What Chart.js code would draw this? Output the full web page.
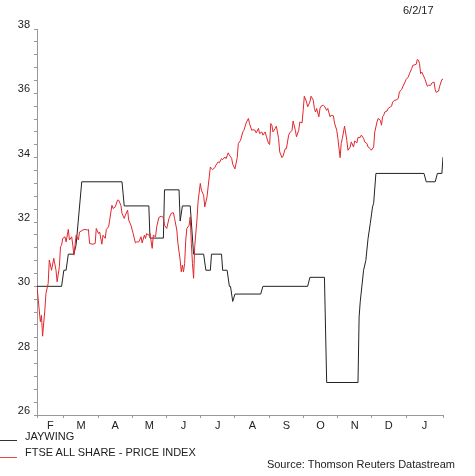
<!DOCTYPE html>
<html>
<head>
<meta charset="utf-8">
<script src="https://cdn.jsdelivr.net/npm/chart.js@4/dist/chart.umd.min.js"></script>
<style>
  html, body { margin: 0; padding: 0; background: #fff; }
  body { width: 475px; height: 476px; position: relative; overflow: hidden;
         font-family: "Liberation Sans", Arial, sans-serif; font-size: 11px; color: #222; }
  #chart { position: absolute; left: 0; top: 0; }
  .txt { position: absolute; white-space: nowrap; line-height: 13px; }
  .key { position: absolute; left: 0; width: 17px; height: 0; }
</style>
</head>
<body>
<canvas id="chart" width="475" height="476"></canvas>
<div class="txt" style="left:403px; top:4px;">6/2/17</div>
<div class="key" style="top:440px; border-top:1px solid #333;"></div>
<div class="txt" style="left:25px; top:430px;">JAYWING</div>
<div class="key" style="top:457px; border-top:1px solid #e8474a;"></div>
<div class="txt" style="left:25px; top:446px;">FTSE ALL SHARE - PRICE INDEX</div>
<div class="txt" style="right:20px; top:458px;">Source: Thomson Reuters Datastream</div>
<script>
// x values are days counted from 6 Feb 2016
const monthEdges = [0, 24, 55, 85, 116, 146, 177, 208, 238, 269, 299, 330, 363];
const monthLabels = ['F', 'M', 'A', 'M', 'J', 'J', 'A', 'S', 'O', 'N', 'D', 'J'];

// JAYWING share price (step changes)
const jayDays = [0, 22, 24, 26, 28, 33, 35, 40, 76, 78, 100, 101, 113, 114, 127, 128, 130, 137, 140, 149,
  151, 155, 156, 165, 166, 170, 172, 173, 175, 177, 200, 202, 242, 244, 257, 259, 287, 288, 289, 292,
  294, 296, 298, 300, 301, 303, 346, 348, 356, 358, 362, 363];
const jayPrice = [30.0, 30.0, 30.5, 30.5, 31.0, 31.0, 31.3, 33.25, 33.25, 32.5, 32.5, 31.5, 31.5, 33.0, 33.0, 32.03, 32.5, 32.5, 31.0, 31.0,
  30.5, 30.5, 31.0, 31.0, 30.5, 30.5, 30.0, 30.0, 29.53, 29.76, 29.76, 30.0, 30.0, 30.28, 30.28, 27.01, 27.01, 29.05, 29.52, 30.5,
  30.8, 31.49, 31.96, 32.47, 32.58, 33.51, 33.51, 33.25, 33.25, 33.51, 33.51, 34.02];

// FTSE All Share, rebased to the JAYWING scale
const ftseDays = [0, 2, 3, 4, 5, 7, 8, 10, 11, 13, 15, 17, 18, 20, 21, 22, 23, 25, 26, 28,
  29, 31, 32, 33, 34, 35, 37, 38, 41, 43, 45, 46, 47, 50, 52, 53, 55, 56, 58, 59,
  61, 62, 64, 65, 67, 68, 70, 72, 73, 75, 76, 78, 79, 81, 82, 84, 86, 88, 89, 91,
  93, 94, 96, 97, 98, 100, 101, 103, 104, 106, 107, 109, 111, 113, 114, 116, 118, 120, 122, 123,
  125, 126, 128, 129, 130, 131, 132, 133, 134, 136, 137, 138, 139, 140, 141, 143, 144, 146, 147, 149,
  150, 152, 153, 155, 156, 157, 159, 160, 162, 163, 165, 166, 168, 169, 171, 172, 174, 175, 177, 179,
  180, 182, 184, 185, 187, 189, 190, 192, 193, 195, 196, 198, 199, 201, 202, 204, 205, 207, 208, 209,
  210, 211, 213, 214, 216, 217, 219, 220, 222, 223, 225, 226, 228, 229, 231, 232, 234, 235, 237, 238,
  239, 241, 242, 244, 245, 247, 248, 249, 250, 252, 253, 254, 256, 257, 259, 260, 262, 263, 265, 266,
  268, 269, 271, 272, 273, 275, 277, 278, 280, 281, 283, 284, 286, 287, 289, 290, 292, 293, 295, 296,
  298, 299, 301, 302, 304, 305, 307, 308, 309, 310, 311, 313, 314, 316, 317, 318, 320, 321, 323, 324,
  326, 327, 329, 330, 332, 333, 335, 336, 338, 339, 340, 341, 342, 343, 344, 346, 347, 349, 350, 352,
  353, 355, 356, 357, 359, 360, 362, 363];
const ftsePrice = [29.99, 29.26, 28.9, 29.1, 28.45, 29.26, 29.78, 30.09, 30.82, 30.5, 30.87, 30.5, 30.14, 30.61, 31.23, 31.28, 31.49, 31.54, 31.38, 31.77,
  31.44, 31.54, 31.28, 30.97, 31.28, 31.59, 31.44, 31.69, 31.75, 31.77, 31.75, 31.77, 31.33, 31.31, 31.33, 31.8, 31.64, 31.69, 31.31, 31.59,
  31.49, 31.77, 31.85, 32.06, 32.52, 32.42, 32.47, 32.68, 32.68, 32.52, 32.27, 32.11, 32.21, 32.37, 32.06, 31.9, 31.64, 31.35, 31.38, 31.38,
  31.54, 31.35, 31.59, 31.49, 31.64, 31.59, 31.64, 31.18, 31.59, 31.54, 31.85, 32.14, 32.18, 32.14, 31.9, 31.8, 32.11, 32.27, 32.29, 32.11,
  31.75, 31.33, 30.82, 30.45, 30.66, 30.45, 30.71, 31.44, 31.8, 31.9, 32.16, 31.33, 30.71, 30.25, 31.23, 32.06, 32.63, 33.2, 32.99, 32.83,
  32.47, 32.78, 33.09, 33.71, 33.66, 33.63, 33.69, 33.77, 33.87, 33.84, 33.97, 33.94, 34.02, 33.97, 34.15, 34.08, 33.98, 33.8, 33.65, 34.0,
  34.44, 34.54, 34.8, 34.85, 35.08, 35.22, 35.06, 34.85, 34.87, 34.85, 34.77, 34.91, 34.75, 34.8, 34.7, 34.8, 34.67, 34.44, 34.41, 35.06,
  35.01, 34.8, 34.91, 34.98, 34.6, 34.18, 34.0, 34.05, 34.28, 34.28, 34.7, 34.77, 34.85, 35.14, 34.85, 34.65, 34.85, 35.11, 35.08, 35.47,
  35.91, 35.73, 35.58, 35.73, 35.91, 35.79, 35.53, 35.42, 35.53, 35.27, 35.53, 35.6, 35.63, 35.6, 35.47, 35.53, 35.27, 35.32, 35.3, 35.08,
  34.85, 34.6, 34.0, 34.44, 34.6, 34.98, 34.54, 34.23, 34.33, 34.49, 34.33, 34.52, 34.46, 34.63, 34.63, 34.7, 34.6, 34.49, 34.44, 34.33,
  34.28, 34.23, 34.33, 34.8, 35.11, 35.22, 35.16, 35.01, 35.27, 35.32, 35.42, 35.45, 35.53, 35.58, 35.6, 35.73, 35.79, 35.79, 35.84, 36.04,
  36.12, 36.2, 36.35, 36.43, 36.51, 36.61, 36.77, 36.87, 36.89, 36.9, 37.05, 37.03, 36.93, 36.61, 36.66, 36.51, 36.43, 36.22, 36.25, 36.25,
  36.32, 36.35, 36.12, 36.03, 36.07, 36.22, 36.43, 36.44];

// month letters sit in the middle of each month
const labelAt = {};
monthLabels.forEach((m, i) => { labelAt[(monthEdges[i] + monthEdges[i + 1]) / 2] = m; });

const font = { family: '"Liberation Sans", Arial, sans-serif', size: 11 };

new Chart(document.getElementById('chart'), {
  type: 'line',
  data: {
    datasets: [
      {
        label: 'FTSE ALL SHARE - PRICE INDEX',
        data: ftseDays.map((d, i) => ({ x: d, y: ftsePrice[i] })),
        borderColor: 'rgb(226,38,44)',
        borderWidth: 1,
        pointRadius: 0,
        tension: 0,
        order: 0
      },
      {
        label: 'JAYWING',
        data: jayDays.map((d, i) => ({ x: d, y: jayPrice[i] })),
        borderColor: '#222',
        borderWidth: 1,
        pointRadius: 0,
        tension: 0,
        order: 1
      }
    ]
  },
  options: {
    responsive: false,
    animation: false,
    events: [],
    layout: { padding: { left: 0, top: 29, right: 32, bottom: 41 } },
    plugins: { legend: { display: false }, tooltip: { enabled: false } },
    scales: {
      x: {
        type: 'linear',
        min: 0,
        max: 363,
        afterFit: s => { s.height = 20; },
        afterBuildTicks: axis => {
          const vals = monthEdges.concat(Object.keys(labelAt).map(Number)).sort((a, b) => a - b);
          axis.ticks = vals.map(v => ({ value: v }));
        },
        ticks: {
          autoSkip: false, maxRotation: 0, minRotation: 0,
          padding: 1, color: '#222', font: font,
          callback: v => labelAt[v] || ''
        },
        grid: {
          drawOnChartArea: false,
          tickLength: 3,
          color: ctx => (ctx.tick && labelAt[ctx.tick.value] !== undefined) ? 'rgba(0,0,0,0)' : '#999'
        },
        border: { color: '#999' }
      },
      y: {
        min: 26,
        max: 38,
        afterFit: s => { s.width = 37; },
        ticks: {
          autoSkip: false,
          stepSize: 0.4, padding: 4, labelOffset: -4, color: '#222', font: font,
          callback: v => {
            const r = Math.round(v);
            return (Math.abs(v - r) < 1e-6 && r % 2 === 0) ? String(r) : '';
          }
        },
        grid: { drawOnChartArea: false, tickLength: 3, color: '#999' },
        border: { color: '#999' }
      }
    }
  }
});
</script>
</body>
</html>
